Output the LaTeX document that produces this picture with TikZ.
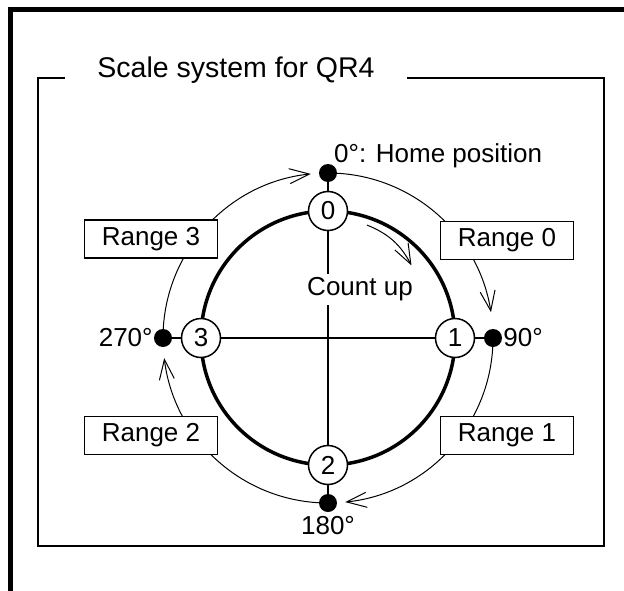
\documentclass[tikz,border=0pt]{standalone}
\usepackage{fontspec}
\setmainfont{Liberation Sans}
\usetikzlibrary{positioning,arrows.meta,calc}
\tikzset{
  flow/.style={-{Straight Barb[length=20pt,width=15pt]},line width=1pt},
  frameline/.style={line width=2.5pt},
  numnode/.style={circle,draw,line width=1.5pt,fill=white,minimum size=39pt,
    inner sep=0pt,font=\fontsize{26}{30}\selectfont},
  dotnode/.style={circle,fill=black,minimum size=18pt,inner sep=0pt},
  rangebox/.style={draw,line width=1.3pt,fill=white,minimum width=133pt,
    minimum height=38pt,inner sep=0pt,font=\fontsize{26}{30}\selectfont},
  lbl/.style={inner sep=0pt,font=\fontsize{26}{30}\selectfont}
}

\begin{document}
\begin{tikzpicture}[x=1pt,y=1pt]
  \useasboundingbox (-328,-252) rectangle (296,338);
  % outer frame
  \draw[line width=5pt] (-317.5,-262) |- (306,328);

  % title and inner frame
  \node[inner xsep=32pt,inner ysep=0pt,anchor=base,
    font=\fontsize{28.5}{34}\selectfont] (title) at (-92,261) {Scale system for QR4};
  \coordinate (tl) at (-290,260);
  \coordinate (br) at (276,-208);
  \draw[frameline] (title.west |- tl) -- (tl) |- (br) |- (title.east |- tl);

  % scale positions
  \coordinate (c) at (0,0);
  \foreach \a/\n in {90/0,0/1,270/2,180/3}
    \coordinate (p\n) at (\a:165pt);

  \draw[flow] (p0) arc[start angle=90,end angle=9,radius=165pt];
  \draw[flow] (p1) arc[start angle=0,end angle=-84,radius=165pt];
  \draw[flow] (p2) arc[start angle=270,end angle=187,radius=165pt];
  \draw[flow] (p3) arc[start angle=180,end angle=96,radius=165pt];

  \draw[line width=3.5pt] (c) circle[radius=127pt];
  \draw[line width=1.2pt] (p3) -- (p1);
  \draw[line width=1.2pt] (p0) -- (p2);

  \foreach \a/\n in {90/0,0/1,270/2,180/3}
    \node[numnode] (n\n) at (\a:127pt) {\n};
  \foreach \n in {0,...,3}
    \node[dotnode] (d\n) at (p\n) {};

  \node[rangebox] (range0) at (179,97.5) {Range 0};
  \node[rangebox] (range1) at (179,-97.5) {Range 1};
  \node[rangebox] (range2) at (-177,-97.5) {Range 2};
  \node[rangebox] (range3) at (-177,99) {Range 3};

  \node[lbl,anchor=base west] (home) at ([shift={(6pt,11pt)}]d0.center) {0°: Home position};
  \node[lbl,anchor=west] (deg90) at ([xshift=1pt]d1.east) {90°};
  \node[lbl,anchor=north] (deg180) at ([yshift=-4pt]d2.south) {180°};
  \node[lbl,anchor=east] (deg270) at ([xshift=-1pt]d3.west) {270°};

  % count direction
  \node[lbl,fill=white,inner sep=4pt] (count) at (32,48.5) {Count up};
  \coordinate (cu1) at (71:119.5pt);
  \coordinate (cu2) at (41:110.6pt);
  \draw[flow] (cu1) to[bend left=20] (cu2);
\end{tikzpicture}
\end{document}
